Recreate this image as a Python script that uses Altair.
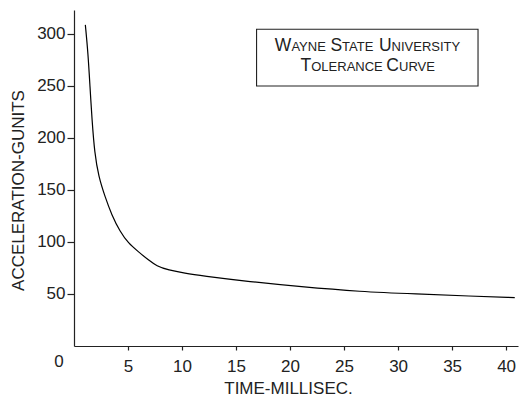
import altair as alt
import pandas as pd

# Curve (time in ms, acceleration in g)
time_ms = [1.05, 1.30, 1.48, 1.67, 1.91, 2.28, 2.87, 3.49, 4.26, 5.03, 5.95, 6.88,
           7.65, 8.73, 10.28, 11.8, 16.3, 20.9, 26.5, 31.7, 36.7, 40.8]
accel_g = [308.7, 281.4, 249.4, 217.0, 185.3, 162.8, 143.6, 126.0, 110.0, 98.8, 90.7, 82.7,
           76.9, 73.0, 69.9, 67.6, 61.8, 57.0, 52.2, 50.0, 48.0, 46.5]

x_ticks = [5, 10, 15, 20, 25, 30, 35, 40]
y_ticks = [50, 100, 150, 200, 250, 300]

legend_lines = ["Wayne State University", "Tolerance Curve"]
box_x = [16.9, 37.4]
box_y = [250, 304.5]

X_DOMAIN = [0, 41.1]
Y_DOMAIN = [0, 323]
W, H = 444, 336
FONT = "Liberation Sans"
BIG, SMALL = 17.5, 13

# Arial / Liberation Sans advance widths (em)
AW = {'A': .667, 'B': .667, 'C': .722, 'D': .722, 'E': .667, 'F': .611, 'G': .778, 'H': .722,
      'I': .278, 'J': .5, 'K': .667, 'L': .556, 'M': .833, 'N': .722, 'O': .778, 'P': .667,
      'Q': .778, 'R': .722, 'S': .667, 'T': .611, 'U': .722, 'V': .667, 'W': .944, 'X': .667,
      'Y': .667, 'Z': .611, ' ': .278}

pxu = W / (X_DOMAIN[1] - X_DOMAIN[0])
pyu = H / (Y_DOMAIN[1] - Y_DOMAIN[0])


def smallcaps_segments(line, center_x, baseline_y):
    segs = []
    for wi, word in enumerate(line.split(" ")):
        if wi > 0:
            segs.append((" ", SMALL))
        segs.append((word[0].upper(), BIG))
        if len(word) > 1:
            segs.append((word[1:].upper(), SMALL))
    widths = [sum(AW.get(c, .6) for c in t) * s for t, s in segs]
    total = sum(widths)
    start = center_x * pxu - total / 2
    rows = []
    for (t, s), w in zip(segs, widths):
        if t.strip():
            rows.append({"t": t, "fs": s, "xd": start / pxu, "yd": baseline_y})
        start += w
    return rows


seg_rows = []
seg_rows += smallcaps_segments(legend_lines[0], 27.17, (346 - 50.7) / pyu)
seg_rows += smallcaps_segments(legend_lines[1], 27.2, (346 - 70.7) / pyu)
seg_df = pd.DataFrame(seg_rows)

curve_df = pd.DataFrame({"t": time_ms, "g": accel_g})
box_df = pd.DataFrame({"x1": [box_x[0]], "x2": [box_x[1]], "y1": [box_y[0]], "y2": [box_y[1]]})
zero_df = pd.DataFrame({"x": [0], "y": [0], "lab": ["0"]})

xscale = alt.Scale(domain=X_DOMAIN, nice=False, zero=False)
yscale = alt.Scale(domain=Y_DOMAIN, nice=False, zero=False)

line = alt.Chart(curve_df).mark_line(color="black", strokeWidth=1.2, interpolate="basis").encode(
    x=alt.X("t:Q", scale=xscale, title="TIME-MILLISEC.",
            axis=alt.Axis(values=x_ticks, tickSize=4, labelPadding=8, grid=False,
                          titleX=214, titleY=34)),
    y=alt.Y("g:Q", scale=yscale, title="ACCELERATION-GUNITS",
            axis=alt.Axis(values=y_ticks, tickSize=7, labelPadding=2, grid=False,
                          titleX=-56, titleY=180, titleBaseline="middle", titleAlign="center")),
)

box = alt.Chart(box_df).mark_rect(fill="white", stroke="#222", strokeWidth=1.1).encode(
    x="x1:Q", x2="x2:Q", y="y1:Q", y2="y2:Q"
)

legend_text = alt.Chart(seg_df).mark_text(align="left", baseline="alphabetic", font=FONT,
                                          color="#222").encode(
    x="xd:Q", y="yd:Q", text="t:N", size=alt.Size("fs:Q", scale=None)
)

zero = alt.Chart(zero_df).mark_text(align="center", baseline="middle", font=FONT, fontSize=17,
                                    color="#222", dx=-15, dy=16).encode(
    x="x:Q", y="y:Q", text="lab:N"
)

chart = alt.layer(line, box, legend_text, zero).properties(
    width=W, height=H,
    autosize=alt.AutoSizeParams(type="none"),
    padding={"left": 66, "top": 2, "right": 6, "bottom": 51},
).configure_view(stroke=None).configure_axis(
    domainColor="#222", tickColor="#222", labelColor="#222", titleColor="#222",
    labelFont=FONT, titleFont=FONT, labelFontSize=17, titleFontSize=17,
    titleFontWeight="normal", domainWidth=1.2, tickWidth=1.2,
)

chart.save("out.html", embed_options={"renderer": "svg", "actions": False})
